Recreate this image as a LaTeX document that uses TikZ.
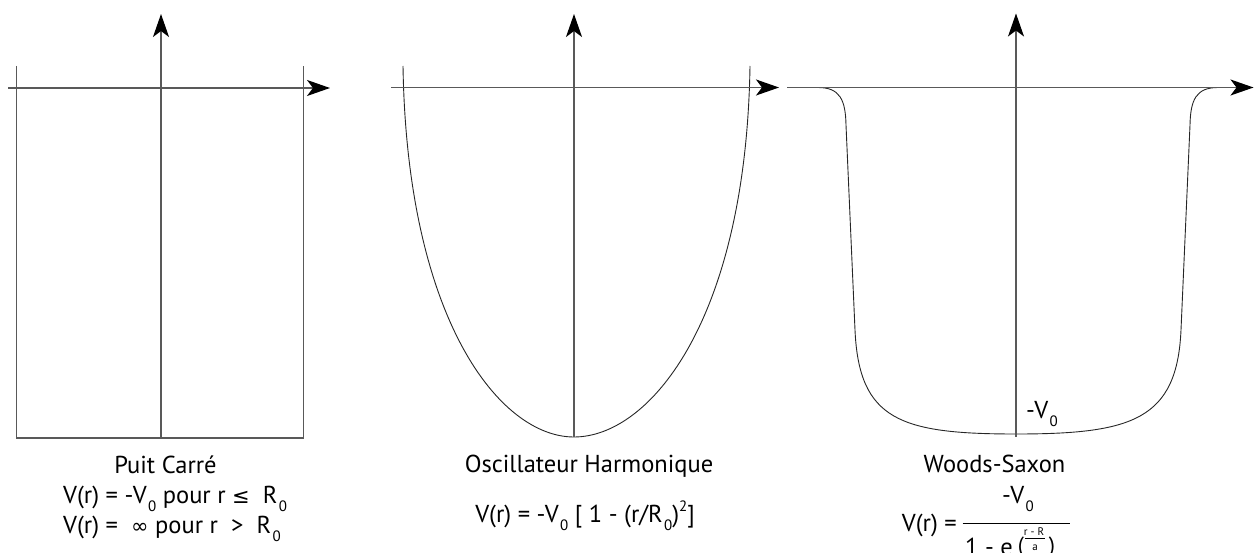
\documentclass[tikz,border=0pt]{standalone}
\usepackage{fontspec}
\setmainfont{PT Sans}
\newfontfamily\symf{DejaVu Sans}
\usetikzlibrary{arrows.meta}
\newcommand{\zsub}[1]{\kern1.5pt\raisebox{-0.33em}{\fontsize{15}{15}\selectfont #1}}
\newcommand{\zsup}[1]{\raisebox{0.42em}{\fontsize{15}{15}\selectfont #1}}
\newcommand{\zsym}[1]{{\symf\fontsize{21}{21}\selectfont #1}}
\begin{document}
\begin{tikzpicture}[x=1pt,y=-1pt,
  axis/.style={draw=black!65, line width=1.2pt, -{Stealth[length=23pt,width=16pt,inset=6pt,color=black]}},
  wall/.style={draw=black!65, line width=1.2pt},
  curve/.style={draw=black!85, line width=0.9pt},
  lbl/.style={font=\fontsize{24.5}{30}\selectfont, inner sep=0pt, anchor=base},
  small/.style={font=\fontsize{11}{12}\selectfont, inner sep=0pt, anchor=base}
]
\useasboundingbox (0,0) rectangle (1254,553);

% ---------- Puit carre ----------
\coordinate (a1l) at (8,88);
\coordinate (a1r) at (330,88);
\coordinate (a1b) at (161,438);
\coordinate (a1t) at (161,14);
\coordinate (w1a) at (16.7,66);
\coordinate (w1b) at (16.7,438);
\coordinate (w1c) at (303.7,438);
\coordinate (w1d) at (303.7,66);
\draw[wall] (w1a) -- (w1b) -- (w1c) -- (w1d);
\draw[axis] (a1l) -- (a1r);
\draw[axis] (a1b) -- (a1t);

% ---------- Oscillateur harmonique ----------
\coordinate (a2l) at (391,87.5);
\coordinate (a2r) at (779,87.5);
\coordinate (a2b) at (574,437);
\coordinate (a2t) at (574,14);
\coordinate (p2a) at (403,66);
\coordinate (p2b) at (574,437);
\coordinate (p2c) at (750,66);
\draw[curve] (p2a) .. controls (407,320) and (500,437) .. (p2b)
                   .. controls (650,437) and (746,320) .. (p2c);
\draw[axis] (a2l) -- (a2r);
\draw[axis] (a2b) -- (a2t);

% ---------- Woods-Saxon ----------
\coordinate (a3l) at (787,87.5);
\coordinate (a3r) at (1253.5,87.5);
\coordinate (a3b) at (1016,437);
\coordinate (a3t) at (1016,13.5);
\draw[curve] (787,87.5) -- (818,87.5)
  .. controls (840,87.5) and (845.5,100) .. (846,125)
  -- (855,330)
  .. controls (859,420) and (900,434) .. (1016,434)
  .. controls (1132,434) and (1177,420) .. (1181,330)
  -- (1190,125)
  .. controls (1190.5,100) and (1196,87.5) .. (1218,87.5);
\draw[axis] (a3l) -- (a3r);
\draw[axis] (a3b) -- (a3t);
\node[lbl, anchor=base west] (v0) at (1026,418) {-V\zsub{0}};

% ---------- Textes ----------
\node[lbl, text depth=3pt] (t1) at (165.5,473) {Puit Carré};
\node[lbl, anchor=base west, text height=17pt, text depth=5pt] (f1a) at (63,503)
  {V(r) = -V\zsub{0} pour r \zsym{≤}\ \ R\zsub{0}};
\node[lbl, anchor=base west, text height=17pt, text depth=5pt] (f1b) at (63,533)
  {V(r) =\ \ \zsym{∞} pour r\ \ >\ \ R\zsub{0}};

\node[lbl] (t2) at (589,472) {Oscillateur Harmonique};
\node[lbl] (f2) at (585,522) {V(r) = -V\zsub{0} [ 1 - (r/R\zsub{0})\zsup{2}]};

\node[lbl] (t3) at (994.5,472.7) {Woods-Saxon};
\node[lbl, anchor=base east] (f3l) at (957,531.7) {V(r) =};
\coordinate (fb1) at (962.7,523.3);
\coordinate (fb2) at (1070,523.3);
\draw[line width=1pt] (fb1) -- (fb2);
\node[lbl] (f3n) at (1018,503) {-V\zsub{0}};
\node[lbl, anchor=base east] (f3d) at (1013,555) {1 - e};
\node[font=\fontsize{22}{22}\selectfont, inner sep=0pt, anchor=base] (pl) at (1021,552) {(};
\node[small] (en) at (1034,535) {r - R};
\coordinate (eb1) at (1025,538.5);
\coordinate (eb2) at (1045,538.5);
\draw[line width=0.6pt] (eb1) -- (eb2);
\node[small] (ed) at (1035,550) {a};
\node[font=\fontsize{22}{22}\selectfont, inner sep=0pt, anchor=base] (pr) at (1052,552) {)};
\end{tikzpicture}
\end{document}
